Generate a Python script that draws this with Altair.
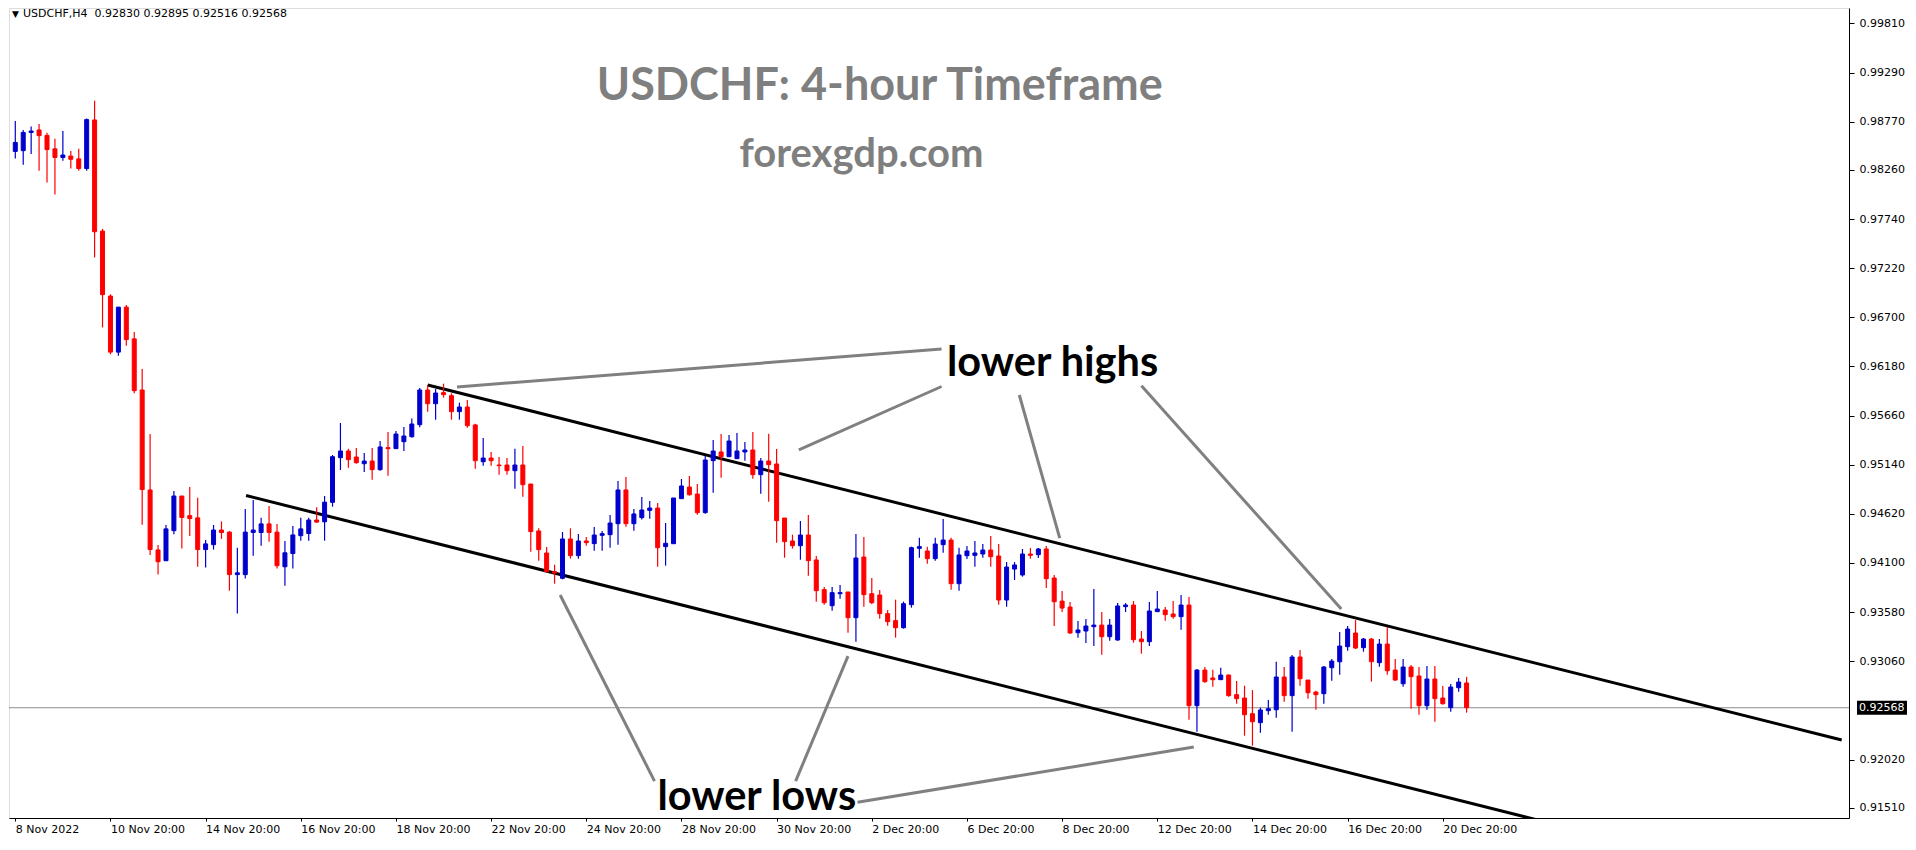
import json
import altair as alt
import pandas as pd

# ---------------- data (USDCHF H4) ----------------
bar_index = list(range(184))

open_ = [0.98456,0.98464,0.98657,0.98683,0.98626,0.98483,0.98392,0.98407,0.98377,0.98275,
0.98789,0.97613,0.96925,0.96332,0.96808,0.96472,0.95931,0.94873,0.94238,0.94124,
0.94442,0.94809,0.94601,0.94578,0.94242,0.94294,0.94449,0.94427,0.93977,0.93977,
0.94423,0.94423,0.94514,0.94427,0.94060,0.94200,0.94389,0.94412,0.94555,0.94536,
0.94742,0.95215,0.95285,0.95222,0.95151,0.95179,0.95088,0.95321,0.95310,0.95384,
0.95437,0.95564,0.95931,0.95786,0.95903,0.95871,0.95702,0.95751,0.95561,0.95172,
0.95211,0.95137,0.95137,0.95077,0.95137,0.94936,0.94439,0.94206,0.94008,0.93938,
0.94354,0.94178,0.94333,0.94305,0.94393,0.94400,0.94516,0.94873,0.94516,0.94580,
0.94657,0.94682,0.94273,0.94304,0.94781,0.94904,0.94830,0.94633,0.95183,0.95275,
0.95225,0.95204,0.95275,0.95296,0.95035,0.95179,0.95148,0.94576,0.94333,0.94283,
0.94396,0.94132,0.93818,0.93648,0.93775,0.93793,0.93521,0.94163,0.93775,0.93761,
0.93564,0.93490,0.93415,0.93659,0.94255,0.94227,0.94146,0.94294,0.94343,0.93881,
0.94177,0.94181,0.94195,0.94237,0.94174,0.93708,0.94036,0.93973,0.94195,0.94188,
0.94248,0.93941,0.93697,0.93634,0.93362,0.93380,0.93426,0.93443,0.93320,0.93285,
0.93638,0.93655,0.93295,0.93267,0.93585,0.93602,0.93560,0.93532,0.93655,0.92590,
0.92967,0.92883,0.92865,0.92914,0.92706,0.92671,0.92505,0.92410,0.92537,0.92547,
0.92893,0.92696,0.93105,0.92861,0.92734,0.92717,0.92992,0.93055,0.93214,0.93359,
0.93204,0.93295,0.93045,0.93242,0.92967,0.92822,0.92999,0.92904,0.92590,0.92872,
0.92671,0.92569,0.92780,0.92830]

high = [0.98778,0.98683,0.98721,0.98747,0.98653,0.98589,0.98672,0.98460,0.98483,0.98804,
0.98993,0.97636,0.96944,0.96808,0.96831,0.96544,0.96154,0.95466,0.94291,0.94502,
0.94861,0.94809,0.94903,0.94790,0.94344,0.94502,0.94540,0.94438,0.94260,0.94672,
0.94767,0.94578,0.94703,0.94514,0.94332,0.94491,0.94578,0.94578,0.94691,0.94809,
0.95243,0.95582,0.95310,0.95317,0.95264,0.95317,0.95391,0.95486,0.95497,0.95539,
0.95628,0.95952,0.95984,0.95942,0.95998,0.95896,0.95797,0.95825,0.95575,0.95423,
0.95275,0.95222,0.95211,0.95310,0.95338,0.94936,0.94467,0.94269,0.94082,0.94428,
0.94467,0.94407,0.94375,0.94481,0.94439,0.94608,0.94968,0.95010,0.94671,0.94798,
0.94756,0.94735,0.94523,0.94788,0.94989,0.95021,0.94936,0.95232,0.95402,0.95465,
0.95455,0.95476,0.95381,0.95486,0.95211,0.95469,0.95306,0.94576,0.94400,0.94544,
0.94608,0.94174,0.93846,0.93846,0.93867,0.93793,0.94407,0.94375,0.93941,0.93814,
0.93602,0.93712,0.93691,0.94273,0.94368,0.94273,0.94368,0.94566,0.94368,0.94262,
0.94280,0.94333,0.94301,0.94385,0.94301,0.94110,0.94110,0.94248,0.94258,0.94258,
0.94280,0.93973,0.93803,0.93687,0.93486,0.93507,0.93825,0.93581,0.93507,0.93676,
0.93676,0.93697,0.93380,0.93687,0.93803,0.93634,0.93697,0.93761,0.93740,0.92978,
0.92999,0.92971,0.92992,0.92921,0.92851,0.92801,0.92755,0.92569,0.92650,0.93055,
0.92999,0.93126,0.93179,0.92861,0.92748,0.93010,0.93084,0.93369,0.93433,0.93496,
0.93306,0.93306,0.93295,0.93422,0.93084,0.93084,0.93020,0.92999,0.93010,0.93010,
0.92798,0.92819,0.92882,0.92895]

low = [0.98381,0.98316,0.98430,0.98252,0.98127,0.97999,0.98358,0.98275,0.98252,0.98252,
0.97334,0.96593,0.96309,0.96294,0.96400,0.95897,0.94506,0.94185,0.93977,0.94124,
0.94404,0.94253,0.94385,0.94060,0.94053,0.94242,0.94355,0.93807,0.93565,0.93935,
0.94177,0.94283,0.94325,0.94041,0.93860,0.94041,0.94336,0.94336,0.94525,0.94336,
0.94696,0.95084,0.95109,0.95151,0.95063,0.94982,0.95077,0.95024,0.95310,0.95285,
0.95426,0.95536,0.95702,0.95617,0.95850,0.95617,0.95617,0.95532,0.95098,0.95130,
0.95130,0.95035,0.95035,0.94887,0.94802,0.94220,0.94125,0.94001,0.93881,0.93927,
0.94146,0.94146,0.94283,0.94230,0.94230,0.94262,0.94294,0.94484,0.94442,0.94559,
0.94569,0.94061,0.94072,0.94304,0.94781,0.94813,0.94611,0.94622,0.94844,0.95003,
0.95225,0.95204,0.95183,0.94992,0.94834,0.94749,0.94315,0.94156,0.94252,0.94135,
0.93966,0.93691,0.93659,0.93595,0.93722,0.93363,0.93267,0.93638,0.93662,0.93511,
0.93437,0.93310,0.93405,0.93627,0.94156,0.94093,0.94125,0.94209,0.93818,0.93807,
0.94142,0.94061,0.94156,0.94061,0.93659,0.93638,0.93920,0.93955,0.94146,0.94153,
0.93835,0.93433,0.93581,0.93352,0.93309,0.93253,0.93221,0.93130,0.93278,0.93278,
0.93581,0.93257,0.93140,0.93221,0.93585,0.93489,0.93510,0.93394,0.92442,0.92315,
0.92833,0.92791,0.92865,0.92685,0.92611,0.92272,0.92166,0.92304,0.92494,0.92463,
0.92632,0.92314,0.92801,0.92664,0.92547,0.92611,0.92854,0.92918,0.93172,0.93189,
0.93161,0.92844,0.93002,0.92918,0.92854,0.92791,0.92558,0.92494,0.92547,0.92420,
0.92600,0.92526,0.92738,0.92516]

close = [0.98551,0.98657,0.98672,0.98623,0.98475,0.98392,0.98418,0.98373,0.98275,0.98793,
0.97606,0.96940,0.96332,0.96808,0.96464,0.95924,0.94877,0.94242,0.94113,0.94461,
0.94809,0.94582,0.94570,0.94242,0.94302,0.94449,0.94423,0.93977,0.93996,0.94427,
0.94449,0.94514,0.94423,0.94071,0.94208,0.94397,0.94461,0.94555,0.94533,0.94744,
0.95225,0.95285,0.95194,0.95162,0.95179,0.95088,0.95328,0.95310,0.95465,0.95444,
0.95571,0.95931,0.95786,0.95899,0.95882,0.95702,0.95751,0.95553,0.95183,0.95211,
0.95183,0.95130,0.95077,0.95137,0.94929,0.94432,0.94241,0.94008,0.93994,0.94354,
0.94178,0.94333,0.94315,0.94396,0.94410,0.94523,0.94873,0.94516,0.94619,0.94661,
0.94682,0.94262,0.94308,0.94788,0.94915,0.94823,0.94633,0.95190,0.95285,0.95225,
0.95391,0.95285,0.95296,0.95035,0.95179,0.95141,0.94548,0.94326,0.94283,0.94396,
0.94125,0.93807,0.93680,0.93786,0.93786,0.93521,0.94153,0.93765,0.93680,0.93564,
0.93479,0.93415,0.93669,0.94262,0.94273,0.94146,0.94301,0.94343,0.93881,0.94185,
0.94227,0.94206,0.94237,0.94167,0.93708,0.94057,0.94079,0.94195,0.94181,0.94248,
0.93934,0.93690,0.93623,0.93359,0.93391,0.93433,0.93443,0.93320,0.93443,0.93645,
0.93655,0.93288,0.93267,0.93592,0.93613,0.93553,0.93532,0.93655,0.92590,0.92967,
0.92844,0.92865,0.92914,0.92696,0.92664,0.92494,0.92420,0.92544,0.92558,0.92893,
0.92696,0.93105,0.92875,0.92727,0.92706,0.92999,0.93062,0.93221,0.93401,0.93200,
0.93295,0.93055,0.93242,0.92960,0.92861,0.92999,0.92897,0.92590,0.92872,0.92664,
0.92611,0.92787,0.92840,0.92568]

x_tick_bars = [0, 12, 24, 36, 48, 60, 72, 84, 96, 108, 120, 132, 144, 156, 168, 180]
x_tick_labels = ["8 Nov 2022", "10 Nov 20:00", "14 Nov 20:00", "16 Nov 20:00",
                 "18 Nov 20:00", "22 Nov 20:00", "24 Nov 20:00", "28 Nov 20:00",
                 "30 Nov 20:00", "2 Dec 20:00", "6 Dec 20:00", "8 Dec 20:00",
                 "12 Dec 20:00", "14 Dec 20:00", "16 Dec 20:00", "20 Dec 20:00"]
y_tick_values = [0.99810, 0.99290, 0.98770, 0.98260, 0.97740, 0.97220, 0.96700,
                 0.96180, 0.95660, 0.95140, 0.94620, 0.94100, 0.93580, 0.93060,
                 0.92020, 0.91510]
last_price = 0.92568
header_text = "USDCHF,H4\u00a0\u00a00.92830 0.92895 0.92516 0.92568"

# channel lines: (line id, bar, price)
channel_id = ["upper", "upper", "lower", "lower"]
channel_bar = [52.0, 230.3, 29.1, 200.0]
channel_price = [0.95984, 0.92226, 0.94814, 0.91210]

# gray pointer lines: start bar/price -> end bar/price
pointer_bar = [55.7, 98.8, 126.6, 142.0, 68.7, 105.0, 148.6]
pointer_price = [0.95963, 0.95296, 0.95878, 0.95976, 0.93761, 0.93115, 0.92152]
pointer_bar2 = [116.8, 116.8, 131.7, 167.2, 80.6, 98.4, 106.2]
pointer_price2 = [0.96365, 0.95968, 0.94364, 0.93613, 0.91792, 0.91792, 0.91568]

label_text = ["lower highs", "lower lows"]
label_bar = [130.8, 93.5]
label_price = [0.96079, 0.91482]

title_text = ["USDCHF: 4-hour Timeframe", "forexgdp.com"]
title_bar = [109.0, 106.7]
title_price = [0.98995, 0.98291]
title_size = [45, 40]

# ---------------- chart ----------------
W, H = 1840, 810
xs = alt.Scale(domain=[-0.1625, 230.59], nice=False, zero=False)
ys = alt.Scale(domain=[0.91401, 0.99974], nice=False, zero=False)
FONT = "DejaVu Sans"

x_axis = alt.Axis(values=x_tick_bars, title=None, grid=False,
                  labelExpr=json.dumps(x_tick_labels) + "[round(datum.value/12)]",
                  labelAlign="left", labelFont=FONT, labelFontSize=11, labelColor="black",
                  labelPadding=2, labelFlush=False, labelOverlap=False,
                  tickColor="black", tickSize=3, domainColor="black")
y_axis = alt.Axis(values=y_tick_values, orient="right", format=".5f", title=None, grid=False,
                  labelFont=FONT, labelFontSize=11, labelColor="black", labelPadding=5,
                  labelFlush=False, labelOverlap=False,
                  tickColor="black", tickSize=5, domainColor="black")


def X(f):
    return alt.X(f, type="quantitative", scale=xs, axis=x_axis)


def Y(f):
    return alt.Y(f, type="quantitative", scale=ys, axis=y_axis)


df = pd.DataFrame({"k": bar_index, "o": open_, "h": high, "l": low, "c": close})
df["dir"] = ["up" if c >= o else "down" for o, c in zip(df.o, df.c)]
df["lo"] = df[["o", "c"]].min(axis=1)
df["hi"] = df[["o", "c"]].max(axis=1)

cscale = alt.Scale(domain=["up", "down"], range=["#0000CD", "#FF0000"])
base = alt.Chart(df)

price_line = alt.Chart(pd.DataFrame({"p": [last_price]})).mark_rule(
    color="#8c8c8c", strokeWidth=1).encode(y=Y("p"))

wicks = base.mark_rule(strokeWidth=1.2).encode(
    x=X("k"), y=Y("l"), y2="h",
    color=alt.Color("dir:N", scale=cscale, legend=None))
bodies = base.mark_bar(width=4, strokeWidth=1).encode(
    x=X("k"), y=Y("lo"), y2="hi",
    color=alt.Color("dir:N", scale=cscale, legend=None),
    stroke=alt.Stroke("dir:N", scale=cscale, legend=None))

chan_df = pd.DataFrame({"id": channel_id, "k": channel_bar, "p": channel_price})
channels = alt.Chart(chan_df).mark_line(color="black", strokeWidth=3, clip=True).encode(
    x=X("k"), y=Y("p"), detail="id:N")

ptr_df = pd.DataFrame({"k": pointer_bar, "p": pointer_price,
                       "k2": pointer_bar2, "p2": pointer_price2})
pointers = alt.Chart(ptr_df).mark_rule(color="#808080", strokeWidth=3).encode(
    x=X("k"), y=Y("p"), x2="k2", y2="p2")

lab_df = pd.DataFrame({"t": label_text, "k": label_bar, "p": label_price})
labels = alt.Chart(lab_df).mark_text(font="Lato", fontWeight="bold", fontSize=41.5,
                                     color="black", align="center",
                                     baseline="alphabetic").encode(
    x=X("k"), y=Y("p"), text="t:N")

tit_df = pd.DataFrame({"t": title_text, "k": title_bar, "p": title_price, "s": title_size})
titles = alt.Chart(tit_df).mark_text(font="Lato", fontWeight="bold",
                                     color="#7F7F7F", align="center",
                                     baseline="alphabetic").encode(
    x=X("k"), y=Y("p"), text="t:N",
    size=alt.Size("s:Q", scale=None, legend=None))

lp_df = pd.DataFrame({"p": [last_price], "t": [f"{last_price:.5f}"]})
price_box = alt.Chart(lp_df).mark_point(
    shape="M-1,-0.28H1V0.28H-1Z", size=2500, filled=True, opacity=1,
    color="black").encode(x=alt.value(W + 33), y=Y("p"))
price_txt = alt.Chart(lp_df).mark_text(
    font=FONT, fontSize=11, color="white", align="left", baseline="middle").encode(
    x=alt.value(W + 10), y=Y("p"), text="t:N")

hdr_df = pd.DataFrame({"t": [header_text]})
header_tri = alt.Chart(hdr_df).mark_text(
    text="\u25bc", font=FONT, fontSize=9, color="black", align="left",
    baseline="middle").encode(x=alt.value(3), y=alt.value(6))
header = alt.Chart(hdr_df).mark_text(
    font=FONT, fontSize=11, color="black", align="left", baseline="middle").encode(
    x=alt.value(14), y=alt.value(6), text="t:N")

chart = alt.layer(
    price_line, channels, pointers, wicks, bodies, labels, titles,
    price_box, price_txt, header_tri, header
).properties(width=W, height=H, padding=0).configure_view(
    stroke="black", strokeWidth=1
).configure(background="white")

chart.save("out.html", embed_options={"renderer": "svg", "actions": False})
